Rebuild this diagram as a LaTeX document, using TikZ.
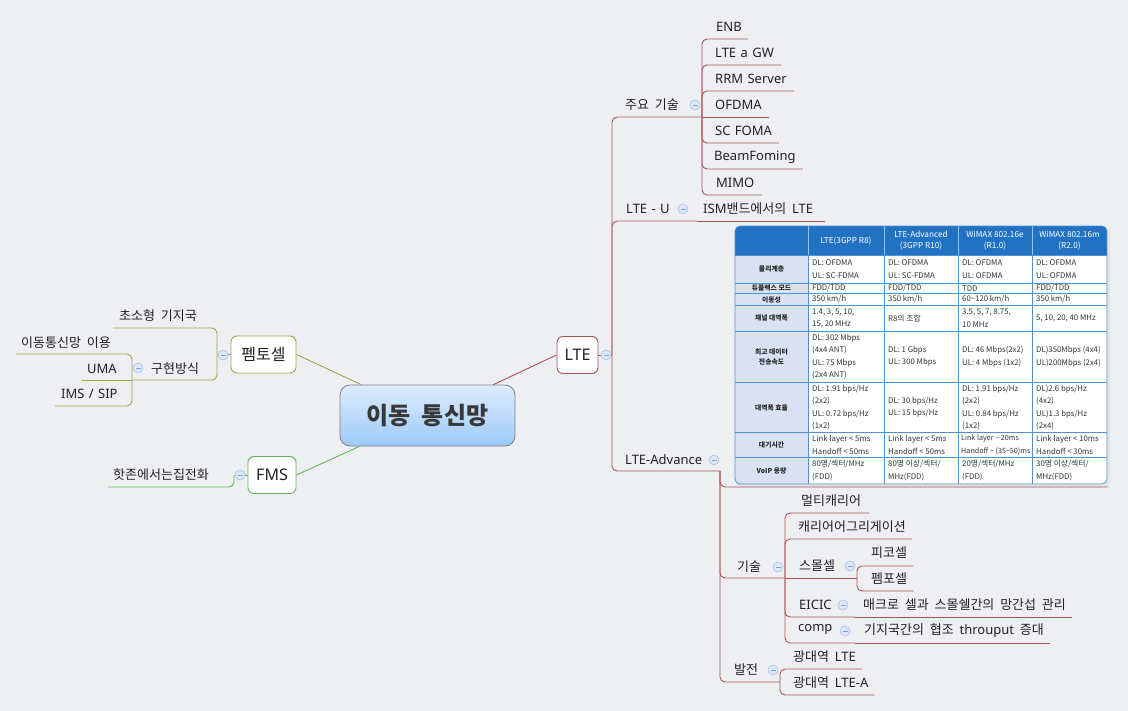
\documentclass[tikz,border=0pt]{standalone}
\usepackage{fontspec}
\setmainfont{Noto Sans CJK KR}[WordSpace=2]
\newfontfamily\la{Noto Sans}[WordSpace=1.3]
\newfontfamily\tb{Noto Sans CJK KR}
\usetikzlibrary{calc}
\definecolor{bg}{HTML}{EEEFF3}
\definecolor{lteC}{HTML}{A85454}
\definecolor{femC}{HTML}{A8A248}
\definecolor{fmsC}{HTML}{66B458}
\definecolor{btnF}{HTML}{DCE7F8}
\definecolor{btnD}{HTML}{A9C3EA}
\definecolor{btnM}{HTML}{7FA3DC}
\definecolor{cenT}{HTML}{DDECFD}
\definecolor{cenB}{HTML}{9CCAF8}
\definecolor{tblHead}{HTML}{2272C3}
\definecolor{tblLab}{HTML}{D8E2F2}
\definecolor{tblLine}{HTML}{4D92D4}
\definecolor{txt}{HTML}{222222}
\tikzset{
  topic/.style={anchor=west, inner sep=0pt, text=txt, font=\fontsize{13}{15}\selectfont},
  lt/.style={topic, font=\la\fontsize{13}{15}\selectfont},
  br/.style={line width=0.9pt, rounded corners=5pt},
  box/.style={rounded corners=6pt, fill=white, line width=0.9pt, minimum height=37pt, inner sep=0pt, text=txt, font=\fontsize{16}{18}\selectfont},
  central/.style={rounded corners=10pt, draw=black!50, line width=0.8pt, top color=cenT, bottom color=cenB, minimum width=175pt, minimum height=61pt, inner sep=0pt, text=black!78, font=\bfseries\fontsize{24}{26}\selectfont},
  btn/.style={circle, draw=btnD, fill=btnF, minimum size=10pt, inner sep=0pt, line width=0.6pt,
    path picture={\draw[btnM, line width=0.7pt] ($(path picture bounding box.center)+(-2.5,0)$) -- ($(path picture bounding box.center)+(2.5,0)$);}},
  td/.style={anchor=west, inner sep=0pt, align=left, text=black!80, font=\tb\fontsize{7.8}{12.5}\selectfont},
  tds/.style={td, font=\tb\fontsize{7.2}{12.5}\selectfont},
  th/.style={inner sep=0pt, align=center, text=white, font=\tb\fontsize{8.2}{11}\selectfont},
  tl/.style={inner sep=0pt, align=center, text=black!85, font=\tb\bfseries\fontsize{6.8}{10}\selectfont},
}
\begin{document}
\begin{tikzpicture}[x=1pt,y=-1pt]
\useasboundingbox (0,0) rectangle (1128,711);
\fill[bg] (0,0) rectangle (1128,711);

% ---------- main nodes ----------
\node[central] (cen) at (427.5,415.5) {이동 통신망};
\node[box, draw=lteC, minimum width=41pt] (lte) at (577.5,355) {\la LTE};
\node[box, draw=femC, minimum width=65pt] (femto) at (263.5,354.5) {펨토셀};
\node[box, draw=fmsC, minimum width=48pt] (fms) at (272,475) {\la FMS};

\draw[lteC, line width=0.9pt] (cen) -- (lte.west);
\draw[femC, line width=0.9pt] (cen) -- (femto.east);
\draw[fmsC, line width=0.9pt] (cen) -- (fms.east);

% ---------- table ----------
\fill[black!10, rounded corners=5pt] (737,228) rectangle (1110,487);
\begin{scope}
  \clip[rounded corners=5pt] (735,226) rectangle (1107,484);
  \fill[white] (735,226) rectangle (1107,484);
  \fill[tblHead] (735,226) rectangle (1107,255.5);
  \fill[tblLab] (735,255.5) rectangle (808,484);
  \foreach \yy in {255.5,283,293.5,305.5,331,382,432.5,457.5}
    \draw[tblLine, line width=0.8pt] (735,\yy) -- (1107,\yy);
  \foreach \xx in {808,884,958,1032}{
    \draw[tblLine, line width=0.8pt] (\xx,255.5) -- (\xx,484);
    \draw[white!55!tblHead, line width=0.8pt] (\xx,226) -- (\xx,255.5);}
\end{scope}
\draw[tblLine, line width=0.8pt, rounded corners=5pt] (735,226) rectangle (1107,484);

\node[th] (h1) at (846,240.75) {LTE(3GPP R8)};
\node[th] (h2) at (921,240.75) {LTE-Advanced\\(3GPP R10)};
\node[th] (h3) at (995,240.75) {WiMAX 802.16e\\(R1.0)};
\node[th] (h4) at (1069.5,240.75) {WiMAX 802.16m\\(R2.0)};

\node[tl] (l1) at (771.5,269.25) {물리계층};
\node[tl] (l2) at (771.5,288.25) {듀플렉스 모드};
\node[tl] (l3) at (771.5,299.5) {이동성};
\node[tl] (l4) at (771.5,318.25) {채널 대역폭};
\node[tl] (l5) at (771.5,356.5) {최고 데이터\\전송속도};
\node[tl] (l6) at (771.5,407.5) {대역폭 효율};
\node[tl] (l7) at (771.5,445) {대기시간};
\node[tl] (l8) at (771.5,470.75) {VoIP 용량};

\node[td] (d11) at (812,269.25) {DL: OFDMA\\UL: SC-FDMA};
\node[td] (d12) at (888,269.25) {DL: OFDMA\\UL: SC-FDMA};
\node[td] (d13) at (962,269.25) {DL: OFDMA\\UL: OFDMA};
\node[td] (d14) at (1036,269.25) {DL: OFDMA\\UL: OFDMA};
\node[td] (d21) at (812,288.25) {FDD/TDD};
\node[td] (d22) at (888,288.25) {FDD/TDD};
\node[td] (d23) at (962,288.25) {TDD};
\node[td] (d24) at (1036,288.25) {FDD/TDD};
\node[td] (d31) at (812,299.5) {350 km/h};
\node[td] (d32) at (888,299.5) {350 km/h};
\node[td] (d33) at (962,299.5) {60\textasciitilde120 km/h};
\node[td] (d34) at (1036,299.5) {350 km/h};
\node[td] (d41) at (812,318.25) {1.4, 3, 5, 10,\\15, 20 MHz};
\node[td] (d42) at (888,318.25) {R8의 조합};
\node[td] (d43) at (962,318.25) {3.5, 5, 7, 8.75,\\10 MHz};
\node[td] (d44) at (1036,318.25) {5, 10, 20, 40 MHz};
\node[td] (d51) at (812,356.5) {DL: 302 Mbps\\(4x4 ANT)\\UL: 75 Mbps\\(2x4 ANT)};
\node[td] (d52) at (888,356.5) {DL: 1 Gbps\\UL: 300 Mbps};
\node[td] (d53) at (962,356.5) {DL: 46 Mbps(2x2)\\UL: 4 Mbps (1x2)};
\node[td] (d54) at (1036,356.5) {DL)350Mbps (4x4)\\UL)200Mbps (2x4)};
\node[td] (d61) at (812,407.5) {DL: 1.91 bps/Hz\\(2x2)\\UL: 0.72 bps/Hz\\(1x2)};
\node[td] (d62) at (888,407.5) {DL: 30 bps/Hz\\UL: 15 bps/Hz};
\node[td] (d63) at (962,407.5) {DL: 1.91 bps/Hz\\(2x2)\\UL: 0.84 bps/Hz\\(1x2)};
\node[td] (d64) at (1036,407.5) {DL)2.6 bps/Hz\\(4x2)\\UL)1.3 bps/Hz\\(2x4)};
\node[td] (d71) at (812,445) {Link layer < 5ms\\Handoff < 50ms};
\node[td] (d72) at (888,445) {Link layer < 5ms\\Handoff < 50ms};
\node[tds] (d73) at (961,445) {Link layer \textasciitilde{} 20ms\\Handoff \textasciitilde{} (35\textasciitilde50)ms};
\node[td] (d74) at (1036,445) {Link layer < 10ms\\Handoff < 30ms};
\node[td] (d81) at (812,470.75) {80명/섹터/MHz\\(FDD)};
\node[td] (d82) at (888,470.75) {80명 이상/섹터/\\MHz(FDD)};
\node[td] (d83) at (962,470.75) {20명/섹터/MHz\\(FDD)};
\node[td] (d84) at (1036,470.75) {30명 이상/섹터/\\MHz(FDD)};
\coordinate (tblEnd) at (1108,487);

% ---------- LTE branch texts ----------
\node[topic] (zuyo) at (625,105) {주요 기술};
\node[lt] (enb) at (716,27) {ENB};
\node[lt] (lgw) at (715,53) {LTE a GW};
\node[lt] (rrm) at (715,79) {RRM Server};
\node[lt] (ofd) at (715,105) {OFDMA};
\node[lt] (scf) at (715,131) {SC FOMA};
\node[lt] (bmf) at (714,157) {BeamFoming};
\node[lt] (mimo) at (716,183) {MIMO};
\node[lt] (lteu) at (626,209) {LTE - U};
\node[topic] (ism) at (703,209) {{\la ISM}밴드에서의 {\la LTE}};
\node[lt] (adv) at (625,460) {LTE-Advance};
\node[topic] (tech) at (737,567) {기술};
\node[topic] (mc) at (801,501) {멀티캐리어};
\node[topic] (ca) at (798,527) {캐리어어그리게이션};
\node[topic] (sm) at (799,566) {스몰셀};
\node[topic] (pico) at (871,553) {피코셀};
\node[topic] (femp) at (871,579) {펨포셀};
\node[lt] (eicic) at (799,605) {EICIC};
\node[topic] (mac) at (863,605) {매크로 셀과 스몰쉘간의 망간섭 관리};
\node[lt] (comp) at (798,630) {comp};
\node[topic] (coop) at (864,631) {기지국간의 협조 {\la throuput} 증대};
\node[topic] (dev) at (734,670) {발전};
\node[topic] (wl) at (793,657) {광대역 {\la LTE}};
\node[topic] (wla) at (793,683) {광대역 {\la LTE-A}};

% junctions
\coordinate (jL) at (612,355);
\coordinate (jZ) at (702,117);
\coordinate (jU) at (697,221);
\coordinate (jA) at (720,471);
\coordinate (jT) at (785,578);
\coordinate (jS) at (857,578);
\coordinate (jE) at (855,617);
\coordinate (jC) at (855,643);
\coordinate (jD) at (780,682);

\begin{scope}[lteC]
\draw[br] (lte.east) -- (jL);
\draw[br] (jL) |- (jZ);
\draw[br] (jL) |- (jU);
\draw[br] (jL) |- (jA);
\draw[br] (jZ) |- ($(enb.east)+(6,12)$);
\draw[br] (jZ) |- ($(lgw.east)+(7,12)$);
\draw[br] (jZ) |- ($(rrm.east)+(7,12)$);
\draw[br] (jZ) -- ($(ofd.east)+(7,12)$);
\draw[br] (jZ) |- ($(scf.east)+(7,12)$);
\draw[br] (jZ) |- ($(bmf.east)+(7,12)$);
\draw[br] (jZ) |- ($(mimo.east)+(7,12)$);
\draw[br] (jU) -- ($(ism.east)+(12,12)$);
\draw[br] (jA) |- (tblEnd);
\draw[br] (jA) |- (jT);
\draw[br] (jA) |- (jD);
\draw[br] (jT) |- ($(mc.east)+(8,12)$);
\draw[br] (jT) |- ($(ca.east)+(6,12)$);
\draw[br] (jT) -- (jS);
\draw[br] (jS) |- ($(pico.east)+(6,13)$);
\draw[br] (jS) |- ($(femp.east)+(6,12)$);
\draw[br] (jT) |- (jE);
\draw[br] (jE) -- ($(mac.east)+(6,12)$);
\draw[br] (jT) |- (jC);
\draw[br] (jC) -- ($(coop.east)+(6,12)$);
\draw[br] (jD) |- ($(wl.east)+(6,12)$);
\draw[br] (jD) |- ($(wla.east)+(6,12)$);
\end{scope}

% ---------- left side ----------
\node[topic] (small) at (119,316) {초소형 기지국};
\node[topic] (impl) at (151,369) {구현방식};
\node[topic] (mob) at (21,343) {이동통신망 이용};
\node[lt] (uma) at (87,369) {UMA};
\node[lt] (ims) at (61,394) {IMS / SIP};
\node[topic] (hot) at (113,475) {핫존에서는집전화};

\coordinate (jF) at (217,355);
\coordinate (jI) at (132,380);
\coordinate (jM) at (234,475);
\begin{scope}[femC]
\draw[br] (femto.west) -- (jF);
\draw[br] (jF) |- ($(small.west)+(-6,12)$);
\draw[br] (jF) |- (jI);
\draw[br] (jI) |- ($(mob.west)+(-5,11)$);
\draw[br] (jI) -- ($(uma.west)+(-5,11)$);
\draw[br] (jI) |- ($(ims.west)+(-6,12)$);
\end{scope}
\begin{scope}[fmsC]
\draw[br] (fms.west) -- (jM);
\draw[br] (jM) |- ($(hot.west)+(-5,12)$);
\end{scope}

% ---------- collapse buttons ----------
\node[btn] (bL) at (606,355) {};
\node[btn] (bZ) at (695,105) {};
\node[btn] (bU) at (683,209) {};
\node[btn] (bA) at (714,460) {};
\node[btn] (bT) at (778,567) {};
\node[btn] (bS) at (850,566) {};
\node[btn] (bE) at (843,605) {};
\node[btn] (bC) at (845,631) {};
\node[btn] (bD) at (773,670) {};
\node[btn] (bF) at (223,355) {};
\node[btn] (bI) at (138,368) {};
\node[btn] (bM) at (240,475) {};
\end{tikzpicture}
\end{document}
